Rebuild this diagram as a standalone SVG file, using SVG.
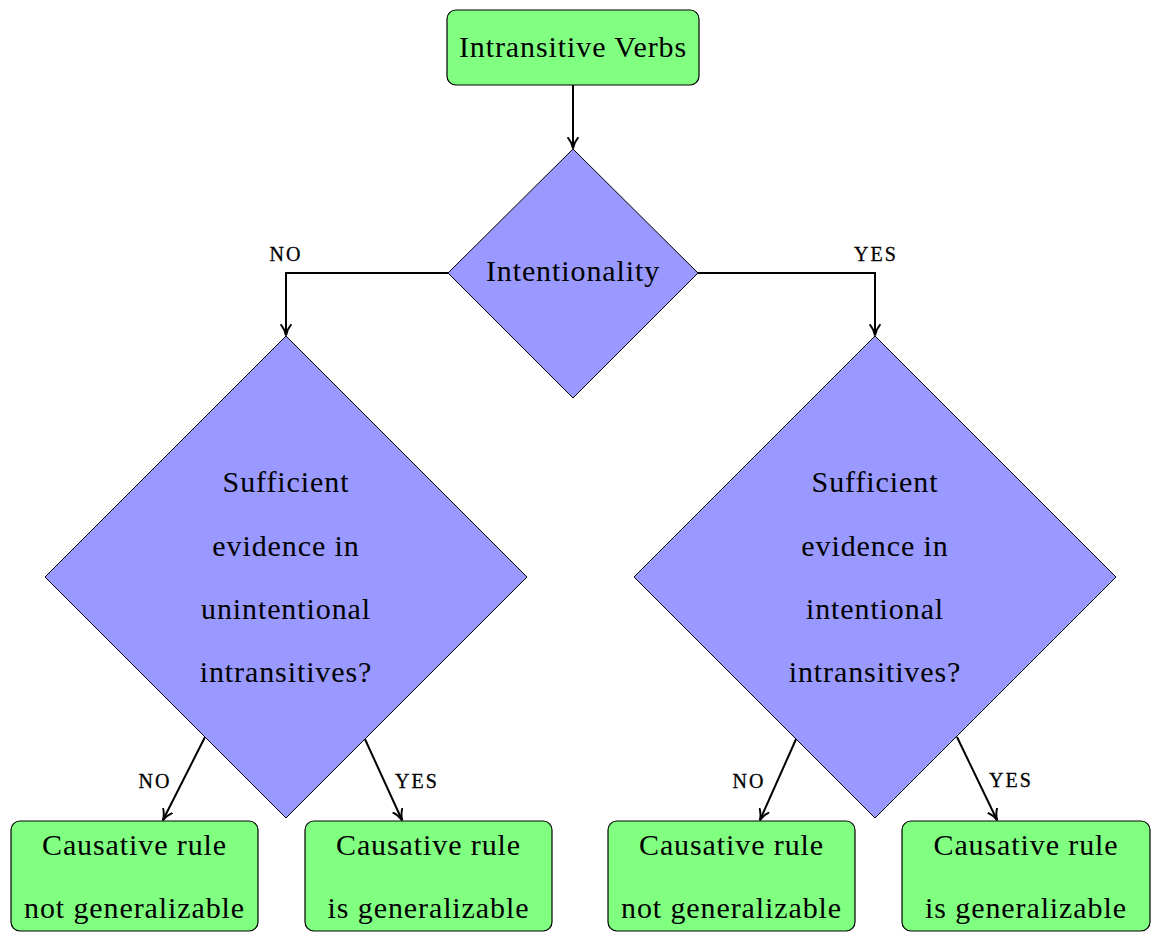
<svg xmlns="http://www.w3.org/2000/svg" width="1151" height="932" viewBox="0 0 1151 932">
  <style>
    .box { fill: #80ff80; stroke: #000; stroke-width: 1.2; }
    .dia { fill: #9999ff; stroke: #000; stroke-width: 1; }
    .t { font-family: "Liberation Serif", serif; font-size: 30px; letter-spacing: 0.9px; text-anchor: middle; fill: #000; }
    .lbl { font-family: "Liberation Serif", serif; font-size: 20px; letter-spacing: 2px; text-anchor: middle; fill: #000; stroke: #000; stroke-width: 0.3; }
    .edge { fill: none; stroke: #000; stroke-width: 2; marker-end: url(#arrow); }
  </style>
  <defs>
    <marker id="arrow" viewBox="0 0 10 10" refX="9" refY="5" markerWidth="6" markerHeight="6" markerUnits="strokeWidth" orient="auto">
      <path d="M0,0.5 Q4,4 9.5,5 Q4,6 0,9.5" fill="none" stroke="#000" stroke-width="1.6"/>
    </marker>
  </defs>

  <g id="connectors">
    <path class="edge" d="M573,85 V148"/>
    <path class="edge" d="M448,273 H286 V335"/>
    <path class="edge" d="M698,273 H875 V335"/>
    <path class="edge" d="M205,737 L163,820"/>
    <path class="edge" d="M364,737 L402,820"/>
    <path class="edge" d="M797,737 L760,820"/>
    <path class="edge" d="M957,737 L997,820"/>
    <text class="lbl" x="286" y="261">NO</text>
    <text class="lbl" x="876" y="261">YES</text>
    <text class="lbl" x="155" y="788">NO</text>
    <text class="lbl" x="417" y="788">YES</text>
    <text class="lbl" x="749" y="788">NO</text>
    <text class="lbl" x="1011" y="787">YES</text>
  </g>

  <g id="start">
    <rect class="box" x="447" y="10" width="252" height="75" rx="9"/>
    <text class="t" x="573" y="57">Intransitive Verbs</text>
  </g>

  <g id="intentionality">
    <polygon class="dia" points="573,149 698,273 573,398 448,273"/>
    <text class="t" x="573" y="281">Intentionality</text>
  </g>

  <g id="evidence-unintentional">
    <polygon class="dia" points="286,336 527,577 286,818 45,577"/>
    <text class="t" x="286" y="492">Sufficient</text>
    <text class="t" x="286" y="556">evidence in</text>
    <text class="t" x="286" y="619">unintentional</text>
    <text class="t" x="286" y="682">intransitives?</text>
  </g>

  <g id="evidence-intentional">
    <polygon class="dia" points="875,336 1116,577 875,818 634,577"/>
    <text class="t" x="875" y="492">Sufficient</text>
    <text class="t" x="875" y="556">evidence in</text>
    <text class="t" x="875" y="619">intentional</text>
    <text class="t" x="875" y="682">intransitives?</text>
  </g>

  <g id="unintentional-no">
    <rect class="box" x="11" y="821" width="247" height="110" rx="9"/>
    <text class="t" x="134.5" y="855">Causative rule</text>
    <text class="t" x="134.5" y="918">not generalizable</text>
  </g>

  <g id="unintentional-yes">
    <rect class="box" x="305" y="821" width="247" height="110" rx="9"/>
    <text class="t" x="428.5" y="855">Causative rule</text>
    <text class="t" x="428.5" y="918">is generalizable</text>
  </g>

  <g id="intentional-no">
    <rect class="box" x="608" y="821" width="247" height="110" rx="9"/>
    <text class="t" x="731.5" y="855">Causative rule</text>
    <text class="t" x="731.5" y="918">not generalizable</text>
  </g>

  <g id="intentional-yes">
    <rect class="box" x="902" y="821" width="248" height="110" rx="9"/>
    <text class="t" x="1026" y="855">Causative rule</text>
    <text class="t" x="1026" y="918">is generalizable</text>
  </g>
</svg>
